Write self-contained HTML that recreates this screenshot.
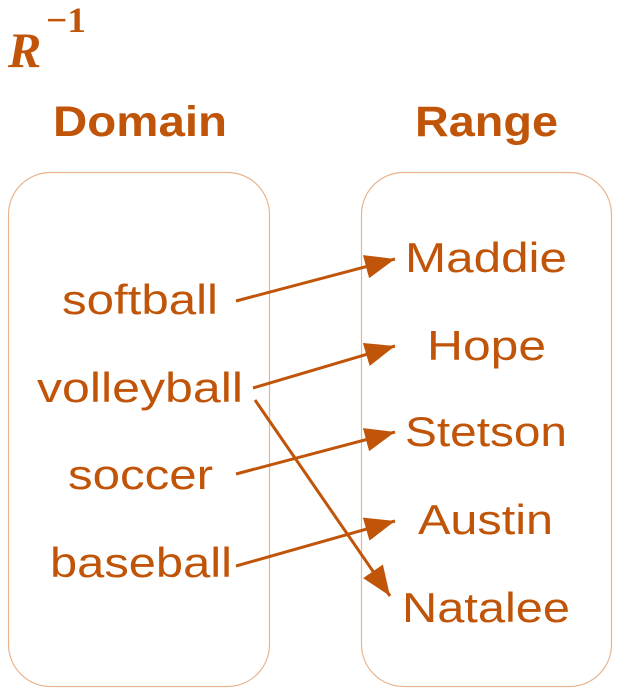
<!DOCTYPE html>
<html><head><style>
body{margin:0;background:#fff;width:619px;height:694px;overflow:hidden}
</style></head><body>
<svg width="619" height="694" xmlns="http://www.w3.org/2000/svg" font-family="Liberation Sans, sans-serif" fill="#c05408">
<text x="8" y="67" font-family="Liberation Serif, serif" font-style="italic" font-weight="bold" font-size="50">R</text>
<text x="46" y="32" font-family="Liberation Serif, serif" font-weight="bold" font-size="36" textLength="40" lengthAdjust="spacingAndGlyphs">−1</text>
<text x="53" y="136" font-weight="bold" font-size="43" textLength="174" lengthAdjust="spacingAndGlyphs">Domain</text>
<text x="415" y="136" font-weight="bold" font-size="43" textLength="143" lengthAdjust="spacingAndGlyphs">Range</text>
<rect x="8.5" y="172.5" width="261" height="514" rx="42" fill="none" stroke="#e8b48e" stroke-width="1.2"/>
<rect x="361.5" y="172.5" width="250" height="514" rx="42" fill="none" stroke="#e8b48e" stroke-width="1.2"/>
<g font-size="42" lengthAdjust="spacingAndGlyphs">
<text x="62" y="314" textLength="156" lengthAdjust="spacingAndGlyphs">softball</text>
<text x="37" y="402" textLength="206" lengthAdjust="spacingAndGlyphs">volleyball</text>
<text x="68" y="489" textLength="145" lengthAdjust="spacingAndGlyphs">soccer</text>
<text x="50" y="577" textLength="182" lengthAdjust="spacingAndGlyphs">baseball</text>
<text x="405" y="272" textLength="162" lengthAdjust="spacingAndGlyphs">Maddie</text>
<text x="427" y="360" textLength="119" lengthAdjust="spacingAndGlyphs">Hope</text>
<text x="405" y="446" textLength="162" lengthAdjust="spacingAndGlyphs">Stetson</text>
<text x="418" y="534" textLength="135" lengthAdjust="spacingAndGlyphs">Austin</text>
<text x="402" y="622" textLength="168" lengthAdjust="spacingAndGlyphs">Natalee</text>
</g>
<defs>
<marker id="b" viewBox="0 0 10 8" refX="10" refY="4" markerWidth="30" markerHeight="24" orient="auto" markerUnits="userSpaceOnUse"><path d="M0,0L10,4L0,8z" fill="#c05408"/></marker></defs>
<g stroke="#c05408" stroke-width="3" fill="none" marker-end="url(#b)">
<line x1="236" y1="301" x2="395" y2="259"/>
<line x1="253" y1="388" x2="395" y2="346"/>
<line x1="255" y1="400" x2="390" y2="596"/>
<line x1="236" y1="474" x2="395" y2="432"/>
<line x1="236" y1="566" x2="395" y2="521"/>
</g>
</svg>
</body></html>
